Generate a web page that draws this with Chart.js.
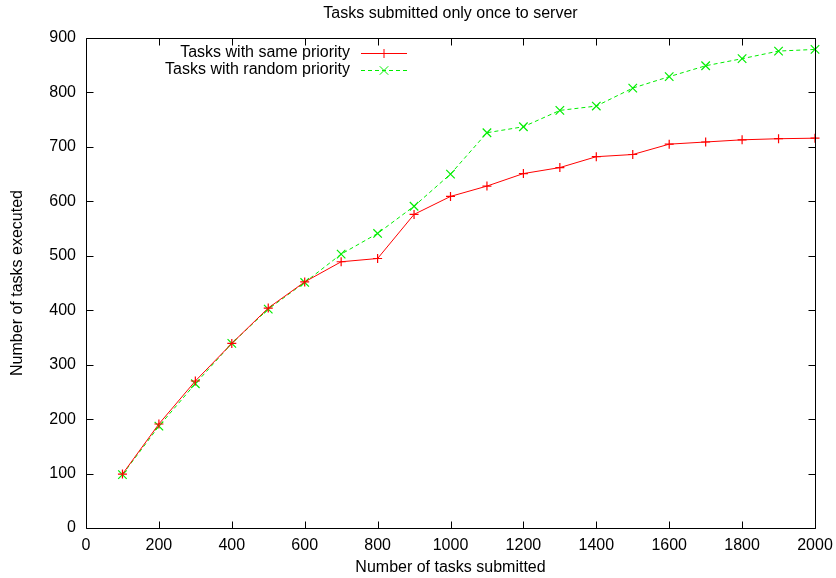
<!DOCTYPE html>
<html>
<head>
<meta charset="utf-8">
<script src="https://cdn.jsdelivr.net/npm/chart.js@4/dist/chart.umd.min.js"></script>
<style>
html,body{margin:0;padding:0;background:#fff;}
#wrap{width:836px;height:578px;position:relative;}
</style>
</head>
<body>
<div id="wrap"><canvas id="c"></canvas></div>
<script>
const chartTitle = "Tasks submitted only once to server";
const xLabel = "Number of tasks submitted";
const yLabel = "Number of tasks executed";
const tasksSubmitted = [100,200,300,400,500,600,700,800,900,1000,1100,1200,1300,1400,1500,1600,1700,1800,1900,2000];
const samePriority = [99,191,270,339,404,452,489,495,576,609,628,651,662,682,686,705,709,713,715,716];
const randomPriority = [98,187,265,339,402,451,503,541,591,650,726,737,767,775,808,829,849,862,876,879];
const seriesNames = ["Tasks with same priority","Tasks with random priority"];
const xTicks = [0,200,400,600,800,1000,1200,1400,1600,1800,2000];
const yTicks = [0,100,200,300,400,500,600,700,800,900];

const FONT = "'Liberation Sans', Arial, Helvetica, sans-serif";
const FS = 16;

const toPts = (ys) => tasksSubmitted.map((x,i)=>({x:x,y:ys[i]}));

const framePlugin = {
  id:'frame',
  afterDatasetsDraw(chart){
    const {ctx, chartArea:a, scales} = chart;
    ctx.save();
    ctx.strokeStyle = '#000';
    ctx.lineWidth = 1;
    ctx.beginPath();
    const L=Math.round(a.left)+0.5, R=Math.round(a.right)+0.5, T=Math.round(a.top)+0.5, B=Math.round(a.bottom)+0.5;
    ctx.rect(L,T,R-L,B-T);
    const tl = 7;
    xTicks.forEach(v=>{
      const px = Math.round(scales.x.getPixelForValue(v))+0.5;
      ctx.moveTo(px,B); ctx.lineTo(px,B-tl);
      ctx.moveTo(px,T); ctx.lineTo(px,T+tl);
    });
    yTicks.forEach(v=>{
      const py = Math.round(scales.y.getPixelForValue(v))+0.5;
      ctx.moveTo(L,py); ctx.lineTo(L+tl,py);
      ctx.moveTo(R,py); ctx.lineTo(R-tl,py);
    });
    ctx.stroke();
    // title
    ctx.fillStyle='#000';
    ctx.font = FS+'px '+FONT;
    ctx.textAlign='center';
    ctx.textBaseline='middle';
    ctx.fillText(chartTitle, (a.left+a.right)/2, 14);
    // legend
    const ds = chart.data.datasets;
    const textRight = a.left + 264;
    const lineL = a.left + 275, lineR = a.left + 321;
    ds.forEach((d,i)=>{
      const y = a.top + 15 + i*17;
      ctx.fillStyle='#000';
      ctx.textAlign='right';
      ctx.fillText(d.label, textRight, y);
      ctx.strokeStyle = d.borderColor;
      ctx.lineWidth = 1;
      ctx.setLineDash(d.borderDash||[]);
      ctx.beginPath();
      ctx.moveTo(lineL, y+0.5); ctx.lineTo(lineR, y+0.5);
      ctx.stroke();
      ctx.setLineDash([]);
      Chart.helpers.drawPoint(ctx, {pointStyle:d.pointStyle, radius:d.pointRadius, borderWidth:1, rotation:0}, (lineL+lineR)/2, y+0.5);
    });
    ctx.restore();
  }
};

new Chart(document.getElementById('c'), {
  type:'line',
  data:{
    datasets:[
      {label:seriesNames[0], data:toPts(samePriority), borderColor:'#ff0000', backgroundColor:'#ff0000',
       borderWidth:1, pointStyle:'cross', pointRadius:4.5, pointBorderWidth:1.2, pointHoverRadius:4.5, tension:0, clip:false, fill:false},
      {label:seriesNames[1], data:toPts(randomPriority), borderColor:'#00ee00', backgroundColor:'#00ee00',
       borderWidth:1, borderDash:[4,3], pointStyle:'crossRot', pointRadius:6, pointBorderWidth:1.2, pointHoverRadius:6, tension:0, clip:false, fill:false}
    ]
  },
  options:{
    responsive:true,
    maintainAspectRatio:false,
    animation:false,
    events:[],
    layout:{padding:{left:0,right:21,top:38,bottom:0}},
    plugins:{legend:{display:false}, title:{display:false}, tooltip:{enabled:false}},
    scales:{
      x:{type:'linear', min:0, max:2000,
         afterFit(s){ s.height = 50; s.paddingLeft = 0; s.paddingRight = 0; },
         afterBuildTicks(s){ s.ticks = xTicks.map(v=>({value:v})); },
         grid:{display:false, drawTicks:false},
         border:{display:false},
         ticks:{color:'#000', font:{family:FONT,size:FS}, padding:8, maxRotation:0, autoSkip:false,
                callback:(v)=>String(v)},
         title:{display:true, text:xLabel, color:'#000', font:{family:FONT,size:FS}, padding:{top:0,bottom:1}}
      },
      y:{type:'linear', min:0, max:900,
         afterFit(s){ s.width = 86; s.paddingTop = 0; s.paddingBottom = 0; },
         afterBuildTicks(s){ s.ticks = yTicks.map(v=>({value:v})); },
         grid:{display:false, drawTicks:false},
         border:{display:false},
         ticks:{color:'#000', font:{family:FONT,size:FS}, padding:10, autoSkip:false,
                callback:(v)=>String(v)},
         title:{display:true, text:yLabel, color:'#000', font:{family:FONT,size:FS}, padding:{top:8,bottom:0}}
      }
    }
  },
  plugins:[framePlugin]
});
</script>
</body>
</html>
